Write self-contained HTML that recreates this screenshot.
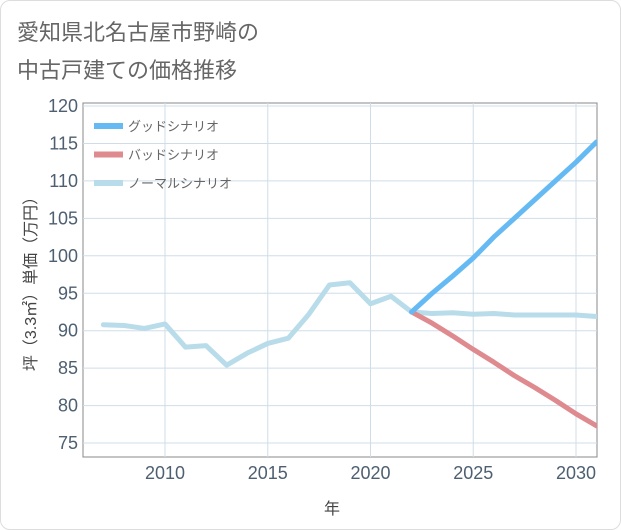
<!DOCTYPE html>
<html><head><meta charset="utf-8"><style>
body{margin:0;background:#fff;font-family:"Liberation Sans","Noto Sans CJK JP",sans-serif;}
#wrap{position:absolute;left:0;top:0;width:619px;height:528px;border:1px solid #ddd;border-radius:10px;background:#fff;}
</style></head><body>
<div id="wrap">
<svg id="chart" width="621" height="530" style="position:absolute;left:-1px;top:-1px">
<text x="17" y="40" font-size="22" fill="#666" font-family="Noto Sans CJK JP, sans-serif">愛知県北名古屋市野崎の</text>
<text x="17" y="78" font-size="22" fill="#666" font-family="Noto Sans CJK JP, sans-serif">中古戸建ての価格推移</text>
<g id="grid"></g>
<g id="series"></g>
<g id="legend"></g>
<text x="332" y="514" font-size="16" fill="#444" text-anchor="middle">年</text>
<text transform="translate(36,280) rotate(-90)" font-size="16" fill="#444" text-anchor="middle">坪（3.3㎡）単価（万円）</text>
</svg></div>
<script>
const years=[2007,2008,2009,2010,2011,2012,2013,2014,2015,2016,2017,2018,2019,2020,2021,2022,2023,2024,2025,2026,2027,2028,2029,2030,2031];
const normal=[90.8,90.7,90.3,90.9,87.8,88.0,85.4,87.0,88.3,89.0,92.2,96.1,96.4,93.6,94.6,92.5,92.3,92.4,92.2,92.3,92.1,92.1,92.1,92.1,91.9];
const futureYears=[2022,2023,2024,2025,2026,2027,2028,2029,2030,2031];
const good=[92.5,95.0,97.3,99.7,102.5,105.0,107.5,110.0,112.5,115.2];
const bad=[92.5,91.0,89.3,87.5,85.8,84.0,82.4,80.7,78.9,77.3];
const yTicks=[75,80,85,90,95,100,105,110,115,120];
const xTicks=[2010,2015,2020,2025,2030];
const L=83,R=597,T=103,B=457;
const x=v=>165+(v-2010)*20.55;
const y=v=>106+(120-v)*7.49;
const NS="http://www.w3.org/2000/svg";
function mk(t,a,p){const e=document.createElementNS(NS,t);for(const k in a)e.setAttribute(k,a[k]);p.appendChild(e);return e;}
const g=document.getElementById('grid');
const bg=mk('rect',{x:L,y:T,width:R-L,height:B-T,fill:'#fff',stroke:'#888','stroke-width':1},g);


yTicks.forEach(v=>{
 const l=mk('line',{x1:L,x2:R,y1:y(v),y2:y(v),stroke:'#cfdde8'},g);
 
 
 const t=mk('text',{x:L-5,y:y(v)+6,'font-size':18,fill:'#4d5f70','text-anchor':'end'},g);
 t.textContent=v;
 
 
});
xTicks.forEach(v=>{
 const l=mk('line',{x1:x(v),x2:x(v),y1:T,y2:B,stroke:'#cfdde8'},g);
 
 
 const t=mk('text',{x:x(v),y:B+22,'font-size':18,fill:'#4d5f70','text-anchor':'middle'},g);
 t.textContent=v;
 
 
});
const s=document.getElementById('series');
function line(xs,ys,c,name){
 const p=mk('polyline',{points:xs.map((v,i)=>x(v)+','+y(ys[i])).join(' '),fill:'none',stroke:c,'stroke-width':5,'stroke-linejoin':'round','stroke-linecap':'round','clip-path':'url(#clip)'},s);
 
 
}
const defs=mk('defs',{},s);const cp=mk('clipPath',{id:'clip'},defs);mk('rect',{x:L,y:T,width:R-L,height:B-T},cp);
line(years,normal,'#b9dcea','normal-scenario-line');
line(futureYears,bad,'#de8a8f','bad-scenario-line');
line(futureYears,good,'#66baf3','good-scenario-line');
const lg=document.getElementById('legend');
[['グッドシナリオ','#66baf3','legend-good'],['バッドシナリオ','#de8a8f','legend-bad'],['ノーマルシナリオ','#b9dcea','legend-normal']].forEach((d,i)=>{
 const yy=126+i*28.5;
 const r=mk('rect',{x:94,y:yy-3,width:29,height:6,fill:d[1]},lg);
 
 
 const t=mk('text',{x:128,y:yy+5,'font-size':13,fill:'#666'},lg);
 t.textContent=d[0];
 
 
});
</script></body></html>
